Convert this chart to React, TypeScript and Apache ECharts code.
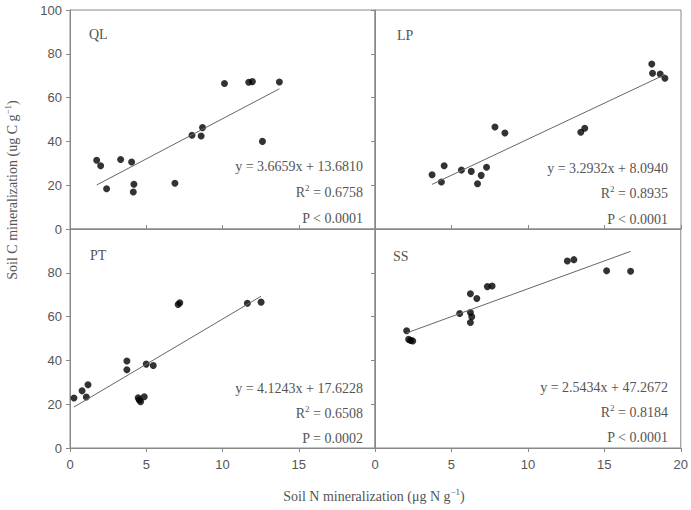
import React, { useEffect, useRef } from "react";
import * as echarts from "echarts";

const panelNames = ["QL", "LP", "PT", "SS"];

const qlX = [1.75, 2.01, 2.4, 3.32, 4.04, 4.19, 4.15, 6.88, 8.0, 8.6, 8.69, 10.13, 11.72, 11.96, 12.62, 13.73];
const qlY = [31.4, 28.9, 18.4, 31.7, 30.6, 20.4, 16.9, 20.9, 42.8, 42.5, 46.3, 66.4, 67.0, 67.3, 40.0, 67.1];

const lpX = [3.73, 4.34, 4.52, 5.65, 6.29, 6.7, 6.94, 7.29, 7.84, 8.49, 13.45, 13.71, 18.09, 18.14, 18.64, 18.95];
const lpY = [24.8, 21.5, 28.9, 26.9, 26.3, 20.7, 24.5, 28.2, 46.6, 43.8, 44.2, 46.0, 75.3, 71.1, 70.8, 68.8];

const ptX = [0.26, 0.79, 1.07, 1.18, 3.73, 3.73, 4.47, 4.54, 4.63, 4.87, 5.0, 5.46, 7.09, 7.2, 11.63, 12.53];
const ptY = [22.8, 26.1, 23.3, 28.9, 39.7, 35.7, 22.9, 21.9, 21.1, 23.4, 38.3, 37.7, 65.5, 66.3, 66.1, 66.6];

const ssX = [2.07, 2.2, 2.33, 2.47, 5.54, 6.24, 6.24, 6.33, 6.24, 6.66, 7.35, 7.66, 12.58, 13.01, 15.15, 16.72];
const ssY = [53.5, 49.6, 49.1, 48.9, 61.4, 70.4, 61.9, 59.9, 57.3, 68.3, 73.7, 74.0, 85.4, 86.0, 80.9, 80.7];

const slopes = [3.6659, 3.2932, 4.1243, 2.5434];
const intercepts = [13.681, 8.094, 17.6228, 47.2672];
const equationTexts = ["y = 3.6659x + 13.6810", "y = 3.2932x + 8.0940", "y = 4.1243x + 17.6228", "y = 2.5434x + 47.2672"];
const r2Texts = ["0.6758", "0.8935", "0.6508", "0.8184"];
const pTexts = ["P < 0.0001", "P < 0.0001", "P = 0.0002", "P < 0.0001"];

const xTicks = [0, 5, 10, 15, 20];
const yTicks = [0, 20, 40, 60, 80, 100];

const allX = [qlX, lpX, ptX, ssX];
const allY = [qlY, lpY, ptY, ssY];

const TEXT = "#555";
const LINE = "#888";

export default function App() {
  const ref = useRef<HTMLDivElement>(null);
  useEffect(() => {
    document.body.style.margin = "0";
    const chart = echarts.init(ref.current!, null, { renderer: "svg" });
    const grids = [
      { left: 70, top: 10, width: 305, height: 219 },
      { left: 375, top: 10, width: 306, height: 219 },
      { left: 70, top: 229, width: 305, height: 219 },
      { left: 375, top: 229, width: 306, height: 219 },
    ].map((g) => ({ ...g, show: true, borderColor: LINE, borderWidth: 1 }));

    const xAxes = [0, 1, 2, 3].map((i) => ({
      type: "value",
      gridIndex: i,
      min: xTicks[0],
      max: xTicks[xTicks.length - 1],
      interval: 5,
      axisLine: { show: true, onZero: false, lineStyle: { color: LINE } },
      axisTick: { show: true, inside: i < 2, length: 4, lineStyle: { color: LINE } },
      splitLine: { show: false },
      axisLabel: {
        show: i >= 2,
        color: TEXT,
        fontFamily: "Liberation Sans",
        fontSize: 13,
        margin: 10,
        formatter: (v: number) => (i === 2 && v === 20 ? "" : String(v)),
      },
    }));

    const yAxes = [0, 1, 2, 3].map((i) => ({
      type: "value",
      gridIndex: i,
      min: yTicks[0],
      max: yTicks[yTicks.length - 1],
      interval: 20,
      axisLine: { show: true, onZero: false, lineStyle: { color: LINE } },
      axisTick: { show: true, length: 4, lineStyle: { color: LINE } },
      splitLine: { show: false },
      axisLabel: {
        show: i % 2 === 0,
        color: TEXT,
        fontFamily: "Liberation Sans",
        fontSize: 13,
        margin: 8,
        formatter: (v: number) => (i === 2 && v === 100 ? "" : String(v)),
      },
    }));

    const series: any[] = [];
    for (let i = 0; i < 4; i++) {
      const xs = allX[i];
      const ys = allY[i];
      const lo = Math.min(...xs);
      const hi = Math.max(...xs);
      series.push({
        type: "line",
        xAxisIndex: i,
        yAxisIndex: i,
        data: [
          [lo, slopes[i] * lo + intercepts[i]],
          [hi, slopes[i] * hi + intercepts[i]],
        ],
        showSymbol: false,
        symbol: "none",
        lineStyle: { color: "#666", width: 1 },
        silent: true,
      });
      series.push({
        type: "scatter",
        xAxisIndex: i,
        yAxisIndex: i,
        data: xs.map((x, k) => [x, ys[k]]),
        symbol: "circle",
        symbolSize: 7,
        itemStyle: { color: "#000" },
      });
    }

    const serif = "Liberation Serif";
    const richStyle = {
      a: { fontFamily: serif, fontSize: 14, fill: TEXT, lineHeight: 18 },
      s: { fontFamily: serif, fontSize: 9, fill: TEXT, verticalAlign: "top", lineHeight: 18 },
    };
    const labelPos = [
      [89, 34],
      [397, 35],
      [90, 255],
      [393, 256],
    ];
    const annRight = [363, 668, 363, 668];
    const annY = [
      [166, 192, 218],
      [168, 193, 219],
      [388, 413, 438],
      [387, 412, 437],
    ];
    const graphics: any[] = [];
    for (let i = 0; i < 4; i++) {
      graphics.push({
        type: "text",
        x: labelPos[i][0],
        y: labelPos[i][1],
        style: { text: panelNames[i], font: `14px "${serif}"`, fill: TEXT, verticalAlign: "middle" },
      });
      graphics.push({
        type: "text",
        x: annRight[i],
        y: annY[i][0],
        style: { text: equationTexts[i], font: `14px "${serif}"`, fill: TEXT, align: "right", verticalAlign: "middle" },
      });
      graphics.push({
        type: "text",
        x: annRight[i],
        y: annY[i][1],
        style: {
          text: `{a|R}{s|2}{a| = ${r2Texts[i]}}`,
          fill: TEXT,
          align: "right",
          verticalAlign: "middle",
          rich: richStyle,
        },
      });
      graphics.push({
        type: "text",
        x: annRight[i],
        y: annY[i][2],
        style: { text: pTexts[i], font: `14px "${serif}"`, fill: TEXT, align: "right", verticalAlign: "middle" },
      });
    }
    graphics.push({
      type: "text",
      x: 374,
      y: 496,
      style: {
        text: "{a|Soil N mineralization (μg N g}{s|−1}{a|)}",
        fill: TEXT,
        align: "center",
        verticalAlign: "middle",
        rich: richStyle,
      },
    });
    graphics.push({
      type: "text",
      x: 12,
      y: 190,
      rotation: Math.PI / 2,
      style: {
        text: "{a|Soil C mineralization (ug C g}{s|−1}{a|)}",
        fill: TEXT,
        align: "center",
        verticalAlign: "middle",
        rich: richStyle,
      },
    });

    chart.setOption({
      animation: false,
      grid: grids,
      xAxis: xAxes,
      yAxis: yAxes,
      series,
      graphic: graphics,
    });
    return () => chart.dispose();
  }, []);
  return <div ref={ref} style={{ width: 691, height: 510 }} />;
}
